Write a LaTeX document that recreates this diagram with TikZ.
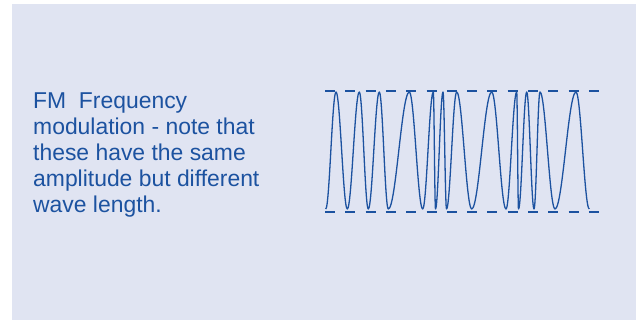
\documentclass[tikz,border=0pt]{standalone}
\usepackage{fontspec}
\setmainfont{Liberation Sans}
\definecolor{bgc}{RGB}{224,228,242}
\definecolor{fmblue}{RGB}{28,82,160}
\begin{document}
\begin{tikzpicture}[x=1pt,y=-1pt,
  wave/.style={draw=fmblue,line width=1.3pt,line join=round},
  level/.style={draw=fmblue,line width=2.8pt,dash pattern=on 10pt off 10.3pt},
  caption/.style={inner sep=0pt,text=fmblue,align=left,anchor=north west,
    font=\fontsize{22.9pt}{25.8pt}\selectfont}]
\useasboundingbox (0,0) rectangle (636,320);
\fill[bgc] (12,4) rectangle (636,320);
\node[caption] (txt) at (33,93) {FM\ \ Frequency\\modulation - note that\\these have the same\\amplitude but different\\wave length.};
\coordinate (tl) at (325,91);
\coordinate (tr) at (600,91);
\coordinate (bl) at (325,212);
\coordinate (br) at (600,212);
\draw[level] (tl) -- (tr);
\draw[level] (bl) -- (br);
\def\T{209}\def\P{92}
\draw[wave] (325.7,\T)
 .. controls (329.45,\T) and (332.25,\P) .. (336,\P)
 .. controls (340.11,\P) and (343.19,\T) .. (347.3,\T)
 .. controls (351.67,\T) and (354.93,\P) .. (359.3,\P)
 .. controls (362.58,\P) and (365.02,\T) .. (368.3,\T)
 .. controls (372.3,\T) and (375.3,\P) .. (379.3,\P)
 .. controls (382.58,\P) and (385.02,\T) .. (388.3,\T)
 .. controls (395.94,\T) and (401.66,\P) .. (409.3,\P)
 .. controls (414.18,\P) and (417.82,\T) .. (422.7,\T)
 .. controls (426.56,\T) and (429.44,\P) .. (433.3,\P)
 .. controls (434.1,\P) and (434.7,\T) .. (435.5,\T)
 .. controls (438.23,\T) and (440.27,\P) .. (443,\P)
 .. controls (444.27,\P) and (445.23,\T) .. (446.5,\T)
 .. controls (450.21,\T) and (452.99,\P) .. (456.7,\P)
 .. controls (462.16,\P) and (466.24,\T) .. (471.7,\T)
 .. controls (478.98,\T) and (484.42,\P) .. (491.7,\P)
 .. controls (496.91,\P) and (500.79,\T) .. (506,\T)
 .. controls (509.89,\T) and (512.81,\P) .. (516.7,\P)
 .. controls (517.36,\P) and (517.84,\T) .. (518.5,\T)
 .. controls (521.48,\T) and (523.72,\P) .. (526.7,\P)
 .. controls (529.36,\P) and (531.34,\T) .. (534,\T)
 .. controls (536.18,\T) and (537.82,\P) .. (540,\P)
 .. controls (545.46,\P) and (549.54,\T) .. (555,\T)
 .. controls (562.64,\T) and (568.36,\P) .. (576,\P)
 .. controls (580.84,\P) and (584.46,\T) .. (589.3,\T);
\end{tikzpicture}
\end{document}
